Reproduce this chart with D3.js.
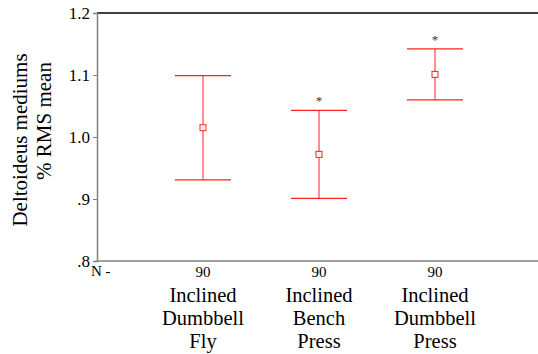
<!DOCTYPE html>
<html>
<head>
<meta charset="utf-8">
<script src="https://cdn.jsdelivr.net/npm/d3@7"></script>
<style>
body { margin: 0; background: #fff; }
</style>
</head>
<body>
<div id="chart"></div>
<script>
// data
const categories = [["Inclined", "Dumbbell", "Fly"], ["Inclined", "Bench", "Press"], ["Inclined", "Dumbbell", "Press"]];
const nValues = [90, 90, 90];
const means = [1.015, 0.972, 1.101];
const upper = [1.099, 1.043, 1.142];
const lower = [0.931, 0.901, 1.060];
const starred = [false, true, true];
const yTicks = [0.8, 0.9, 1.0, 1.1, 1.2];
const yTickLabels = [".8", ".9", "1.0", "1.1", "1.2"];

const width = 538, height = 354;
const padding = {left: 97, right: 0, top: 13, bottom: 93};
const serif = "Liberation Serif";

const svg = d3.select("#chart").append("svg")
	.attr("width", width)
	.attr("height", height)
	.attr("font-family", serif);

const xScale = d3.scalePoint()
	.domain(d3.range(categories.length))
	.range([203, 435]);

const yScale = d3.scaleLinear()
	.domain([0.8, 1.2])
	.range([height - padding.bottom, padding.top]);

const yAxis = d3.axisLeft(yScale)
	.tickValues(yTicks)
	.tickSize(4)
	.tickFormat((d, i) => yTickLabels[i]);

// top frame line
svg.append("line")
	.attr("x1", padding.left).attr("x2", width)
	.attr("y1", yScale(1.2)).attr("y2", yScale(1.2))
	.attr("stroke", "#000").attr("stroke-width", 1.5);

// bottom axis line
svg.append("line")
	.attr("x1", padding.left).attr("x2", width)
	.attr("y1", yScale(0.8)).attr("y2", yScale(0.8))
	.attr("stroke", "#808080").attr("stroke-width", 1.5);

const gy = svg.append("g")
	.attr("class", "y axis")
	.attr("transform", `translate(${padding.left},0)`)
	.call(yAxis)
	.attr("font-family", serif)
	.attr("font-size", 17);
gy.select(".domain").attr("stroke", "#808080").attr("stroke-width", 1.5);
gy.selectAll(".tick line").attr("stroke", "#808080");
gy.selectAll(".tick text")
	.attr("x", -7)
	.attr("dy", "0.3em")
	.attr("fill", "#000");

// y title, two lines each centred on its own spot
svg.append("text")
	.attr("transform", "translate(27,140) rotate(-90)")
	.attr("text-anchor", "middle")
	.attr("font-size", 21)
	.text("Deltoideus mediums");
svg.append("text")
	.attr("transform", "translate(51,121) rotate(-90)")
	.attr("text-anchor", "middle")
	.attr("font-size", 21)
	.text("% RMS mean");

// error bars
const capHalf = 28;
const bars = svg.append("g").selectAll("g.bar")
	.data(means)
	.enter().append("g")
	.attr("class", "bar");

bars.append("line")
	.attr("x1", (d, i) => xScale(i)).attr("x2", (d, i) => xScale(i))
	.attr("y1", (d, i) => yScale(upper[i])).attr("y2", (d, i) => yScale(lower[i]))
	.attr("stroke", "#ff2020").attr("stroke-width", 1);

bars.append("line")
	.attr("x1", (d, i) => xScale(i) - capHalf).attr("x2", (d, i) => xScale(i) + capHalf)
	.attr("y1", (d, i) => yScale(upper[i])).attr("y2", (d, i) => yScale(upper[i]))
	.attr("stroke", "#ff2020").attr("stroke-width", 1.2);

bars.append("line")
	.attr("x1", (d, i) => xScale(i) - capHalf).attr("x2", (d, i) => xScale(i) + capHalf)
	.attr("y1", (d, i) => yScale(lower[i])).attr("y2", (d, i) => yScale(lower[i]))
	.attr("stroke", "#ff2020").attr("stroke-width", 1.2);

bars.append("rect")
	.attr("x", (d, i) => xScale(i) - 3)
	.attr("y", d => yScale(d) - 3)
	.attr("width", 6).attr("height", 6)
	.attr("fill", "#fff")
	.attr("stroke", "#ff2020").attr("stroke-width", 1);

bars.filter((d, i) => starred[i]).append("text")
	.attr("x", d => xScale(means.indexOf(d)))
	.attr("y", d => yScale(upper[means.indexOf(d)]) - 5)
	.attr("text-anchor", "middle")
	.attr("font-size", 13)
	.attr("fill", "#333")
	.text("*");

// N row
svg.append("text")
	.attr("x", 91).attr("y", 276)
	.attr("font-size", 15)
	.text("N -");

svg.selectAll("text.n")
	.data(nValues)
	.enter().append("text")
	.attr("class", "n")
	.attr("x", (d, i) => xScale(i))
	.attr("y", 277)
	.attr("text-anchor", "middle")
	.attr("font-size", 15)
	.text(d => d);

// category labels
const cat = svg.selectAll("text.cat")
	.data(categories)
	.enter().append("text")
	.attr("class", "cat")
	.attr("transform", (d, i) => `translate(${xScale(i)},302)`)
	.attr("text-anchor", "middle")
	.attr("font-size", 20.5);
cat.selectAll("tspan")
	.data(d => d)
	.enter().append("tspan")
	.attr("x", 0)
	.attr("y", (d, j) => j * 23)
	.text(d => d);
</script>
</body>
</html>
